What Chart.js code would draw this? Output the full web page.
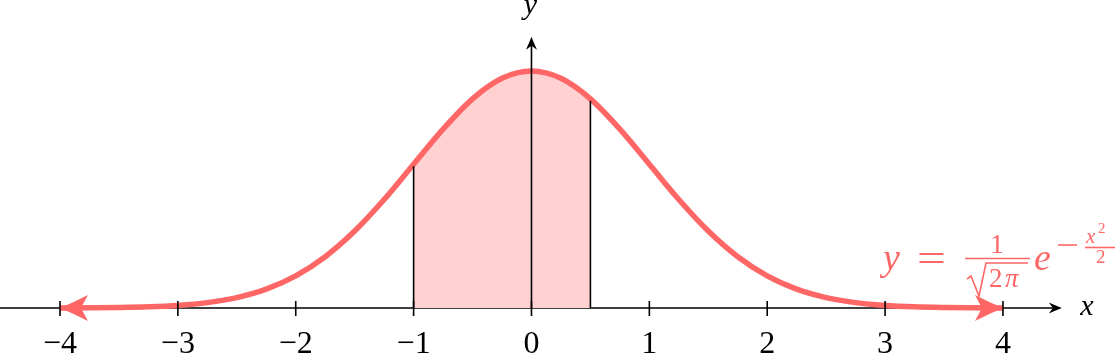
<!DOCTYPE html>
<html>
<head>
<meta charset="utf-8">
<script src="https://cdn.jsdelivr.net/npm/chart.js@4/dist/chart.umd.min.js"></script>
<style>
  html, body { margin: 0; padding: 0; background: #ffffff; }
  #chart { display: block; }
</style>
</head>
<body>
<canvas id="chart" width="1118" height="354"></canvas>
<script>
// values (density curve, shaded band, ticks)
const curveX = [-4, -3.75, -3.5, -3.25, -3, -2.75, -2.5, -2.25, -2, -1.75, -1.5, -1.25, -1, -0.75, -0.5, -0.25,
  0, 0.25, 0.5, 0.75, 1, 1.25, 1.5, 1.75, 2, 2.25, 2.5, 2.75, 3, 3.25, 3.5, 3.75, 4];
const curveY = [0.0001, 0.0004, 0.0009, 0.002, 0.0044, 0.0091, 0.0175, 0.0317, 0.054, 0.0863, 0.1295, 0.1826, 0.242, 0.3011, 0.3521, 0.3867,
  0.3989, 0.3867, 0.3521, 0.3011, 0.242, 0.1826, 0.1295, 0.0863, 0.054, 0.0317, 0.0175, 0.0091, 0.0044, 0.002, 0.0009, 0.0004, 0.0001];
const shadeX = [-1, -0.75, -0.5, -0.25, 0, 0.25, 0.5];
const shadeY = [0.242, 0.3011, 0.3521, 0.3867, 0.3989, 0.3867, 0.3521];
const tickValues = [-4, -3, -2, -1, 0, 1, 2, 3, 4];
const tickLabels = ["\u22124", "\u22123", "\u22122", "\u22121", "0", "1", "2", "3", "4"];

const red = "#ff6666";
const pink = "#ffd1d1";

function toPoints(xs, ys) {
  return xs.map((x, i) => ({ x: x, y: ys[i] }));
}

function font(size, italic) {
  return (italic ? "italic " : "") + size + 'px "Liberation Serif"';
}

function stealth(ctx, tipX, tipY, dir, len, half, notch) {
  // dir: unit vector the arrow points along
  const [dx, dy] = dir;
  const nx = -dy, ny = dx;
  const bx = tipX - dx * len, by = tipY - dy * len;
  const mx = tipX - dx * len * 0.5, my = tipY - dy * len * 0.5;
  ctx.beginPath();
  ctx.moveTo(tipX, tipY);
  ctx.quadraticCurveTo(mx + nx * half * 0.45, my + ny * half * 0.45, bx + nx * half, by + ny * half);
  ctx.lineTo(tipX - dx * (len - notch), tipY - dy * (len - notch));
  ctx.lineTo(bx - nx * half, by - ny * half);
  ctx.quadraticCurveTo(mx - nx * half * 0.45, my - ny * half * 0.45, tipX, tipY);
  ctx.closePath();
  ctx.fill();
}

const axesPlugin = {
  id: "axesPlugin",
  beforeDatasetsDraw(chart) {
    const ctx = chart.ctx;
    const xs = chart.scales.x, ys = chart.scales.y;
    const y0 = ys.getPixelForValue(0);
    ctx.save();
    ctx.strokeStyle = "#000";
    ctx.lineWidth = 1.6;
    ctx.beginPath();
    ctx.moveTo(0, y0);
    ctx.lineTo(xs.getPixelForValue(4.5) - 4, y0);
    ctx.stroke();
    ctx.restore();
  },
  afterDatasetsDraw(chart) {
    const ctx = chart.ctx;
    const xs = chart.scales.x, ys = chart.scales.y;
    const y0 = ys.getPixelForValue(0);
    ctx.save();
    ctx.strokeStyle = "#000";
    ctx.fillStyle = "#000";
    ctx.lineWidth = 1.6;

    // edges of the shaded band
    [0, shadeX.length - 1].forEach((i) => {
      const px = xs.getPixelForValue(shadeX[i]);
      ctx.beginPath();
      ctx.moveTo(px, y0);
      ctx.lineTo(px, ys.getPixelForValue(shadeY[i]) + 2);
      ctx.stroke();
    });

    // ticks and labels
    ctx.font = font(32, false);
    ctx.textAlign = "center";
    ctx.textBaseline = "alphabetic";
    tickValues.forEach((v, i) => {
      const px = xs.getPixelForValue(v);
      ctx.beginPath();
      ctx.moveTo(px, y0 - 7);
      ctx.lineTo(px, y0 + 8);
      ctx.stroke();
      ctx.fillText(tickLabels[i], px, 353);
    });

    // y axis
    const x0 = xs.getPixelForValue(0);
    const yTop = ys.getPixelForValue(0.4565);
    ctx.beginPath();
    ctx.moveTo(x0, y0);
    ctx.lineTo(x0, yTop + 4);
    ctx.stroke();
    stealth(ctx, x0, yTop, [0, -1], 13, 5.5, 4);

    // x axis arrow
    const xEnd = xs.getPixelForValue(4.5);
    stealth(ctx, xEnd, y0, [1, 0], 13, 5.5, 4);

    // axis names
    ctx.font = font(30, true);
    ctx.fillText("y", x0 - 1, 14);
    ctx.fillText("x", 1087, 315);

    // red arrow heads at curve ends
    ctx.fillStyle = red;
    const last = curveX.length - 1;
    stealth(ctx, xs.getPixelForValue(curveX[0]), ys.getPixelForValue(curveY[0]), [-1, 0], 28, 13, 7);
    stealth(ctx, xs.getPixelForValue(curveX[last]), ys.getPixelForValue(curveY[last]), [1, 0], 28, 13, 7);

    // formula label
    ctx.strokeStyle = red;
    ctx.textAlign = "left";
    ctx.font = font(38, true);
    ctx.fillText("y", 883, 270);
    ctx.font = font(38, false);
    ctx.save();
    ctx.translate(917, 271);
    ctx.scale(1.35, 1);
    ctx.fillText("=", 0, 0);
    ctx.restore();
    ctx.textAlign = "center";
    ctx.font = font(27, false);
    ctx.fillText("1", 997, 253);
    ctx.lineWidth = 1.6;
    ctx.beginPath();
    ctx.moveTo(965, 258.5);
    ctx.lineTo(1030, 258.5);
    ctx.stroke();
    // radical
    ctx.lineWidth = 1.6;
    ctx.beginPath();
    ctx.moveTo(967, 279);
    ctx.lineTo(971, 276);
    ctx.lineTo(979, 296);
    ctx.lineTo(986, 263);
    ctx.lineTo(1028, 263);
    ctx.stroke();
    ctx.textAlign = "left";
    ctx.fillText("2", 989, 287);
    ctx.font = font(27, true);
    ctx.fillText("\u03c0", 1005, 287);
    ctx.font = font(38, true);
    ctx.fillText("e", 1034, 270);
    // exponent
    ctx.beginPath();
    ctx.moveTo(1058, 245);
    ctx.lineTo(1077, 245);
    ctx.stroke();
    ctx.font = font(21, true);
    ctx.fillText("x", 1086, 243);
    ctx.font = font(15, false);
    ctx.fillText("2", 1098, 233);
    ctx.beginPath();
    ctx.moveTo(1085, 247.5);
    ctx.lineTo(1115, 247.5);
    ctx.stroke();
    ctx.font = font(19, false);
    ctx.fillText("2", 1096, 263);
    ctx.restore();
  }
};

const ctx = document.getElementById("chart").getContext("2d");
const chart = new Chart(ctx, {
  type: "line",
  data: {
    datasets: [
      {
        label: "density",
        data: toPoints(curveX, curveY),
        borderColor: red,
        borderWidth: 5.5,
        pointRadius: 0,
        fill: false,
        cubicInterpolationMode: "monotone",
        clip: false
      },
      {
        label: "band",
        data: toPoints(shadeX, shadeY),
        borderWidth: 0,
        borderColor: "rgba(0,0,0,0)",
        backgroundColor: pink,
        pointRadius: 0,
        fill: "origin",
        cubicInterpolationMode: "monotone"
      }
    ]
  },
  options: {
    responsive: false,
    devicePixelRatio: 1,
    animation: false,
    layout: { padding: 0 },
    scales: {
      x: { type: "linear", min: -4.509, max: 4.976, display: false },
      y: { type: "linear", min: -0.0774, max: 0.5185, display: false }
    },
    plugins: {
      legend: { display: false },
      tooltip: { enabled: false }
    }
  },
  plugins: [axesPlugin]
});
</script>
</body>
</html>
